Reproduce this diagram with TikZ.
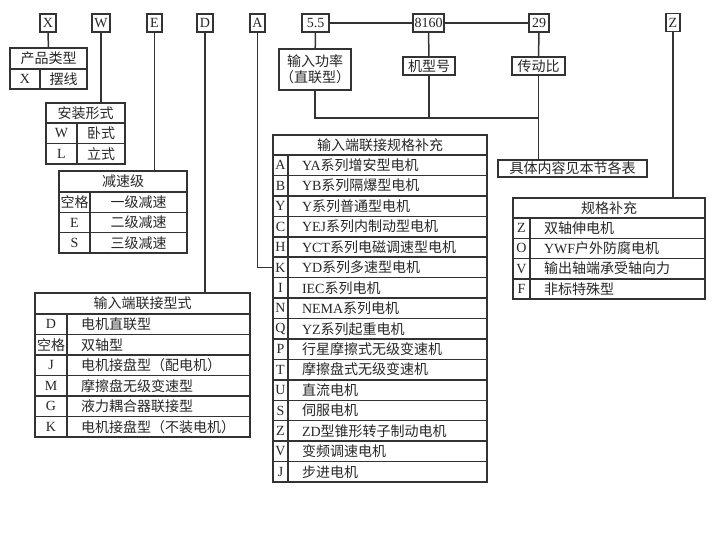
\documentclass[tikz,border=0pt]{standalone}
\usepackage{fontspec}
\setmainfont{Liberation Serif}
\newfontfamily\cjk{Noto Sans CJK SC}
\newcommand{\zh}[1]{{\cjk #1}}

\tikzset{
  wire/.style={line width=1.5pt, draw=black!80},
  codebox/.style={wire, fill=white, minimum height=18pt, inner sep=1pt},
  cell/.style={wire, anchor=north west, inner sep=0pt, outer sep=0pt},
  desc/.style={cell, align=left, inner xsep=14pt, text width=#1},
}

\begin{document}
\begin{tikzpicture}[x=1pt, y=-1pt, font=\fontsize{14}{16}\selectfont, text=black!85]
    \useasboundingbox (0,0) rectangle (720,540);

    % Code letters along the top
    \node[codebox, minimum width=16pt] (X) at (48,23) {X};
    \node[codebox, minimum width=18pt] (W) at (101,23) {W};
    \node[codebox, minimum width=15pt] (E) at (154.5,23) {E};
    \node[codebox, minimum width=16pt] (D) at (205,23) {D};
    \node[codebox, minimum width=15pt] (A) at (257.5,23) {A};
    \node[codebox, minimum width=27pt] (pw) at (315.5,23) {5.5};
    \node[codebox, minimum width=31pt] (fr) at (428.5,23) {8160};
    \node[codebox, minimum width=20pt] (ra) at (539,23) {29};
    \node[codebox, minimum width=14pt] (Z) at (673,22.5) {Z};

    % Power / frame / ratio labels
    \node[codebox, minimum width=70pt, minimum height=41pt, align=center] (pwlab) at (315,69.5) {\zh{输入功率}\\\zh{（直联型）}};
    \node[codebox, minimum width=52pt] (frlab) at (429,66) {\zh{机型号}};
    \node[codebox, minimum width=53pt] (ralab) at (538.5,66) {\zh{传动比}};
    \node[codebox, minimum width=149pt, minimum height=17pt] (see) at (572.5,168.5) {\zh{具体内容见本节各表}};
    \coordinate (join) at (539,118);

    \draw[wire] (pw) -- (fr) -- (ra);
    \draw[wire] (pw) -- (pwlab);
    \draw[wire] (fr) -- (frlab);
    \draw[wire] (ra) -- (ralab);
    \draw[wire] (pwlab.south) |- (join);
    \draw[wire] (frlab.south) -- (frlab.south |- join);
    \draw[wire] (ralab.south) -- (ralab.south |- see.north);

    % Product type
    \node[cell, minimum width=77pt, minimum height=21pt] (ptype) at (10,48) {\zh{产品类型}};
    \node[cell, minimum width=30pt, minimum height=20pt] (ptype-c1) at (10,69) {X};
    \node[cell, minimum width=47pt, minimum height=20pt] (ptype-d1) at (40,69) {\zh{摆线}};
    \draw[wire] (X) -- (ptype);

    % Mounting
    \node[cell, minimum width=79pt, minimum height=20pt] (mount) at (46,103) {\zh{安装形式}};
    \foreach \c/\d [count=\i] in {W/\zh{卧式}, L/\zh{立式}} {
        \node[cell, minimum width=31pt, minimum height=20.5pt] (mount-c\i) at (46,{123+(\i-1)*20.5}) {\c};
        \node[cell, minimum width=48pt, minimum height=20.5pt] (mount-d\i) at (77,{123+(\i-1)*20.5}) {\d};
    }
    \draw[wire] (W) -- (W |- mount.north);

    % Reduction stages
    \node[cell, minimum width=128pt, minimum height=21pt] (stage) at (59,171) {\zh{减速级}};
    \foreach \c/\d [count=\i] in {\zh{空格}/\zh{一级减速}, E/\zh{二级减速}, S/\zh{三级减速}} {
        \node[cell, minimum width=31pt, minimum height=20.33pt] (stage-c\i) at (59,{192+(\i-1)*20.33}) {\c};
        \node[cell, minimum width=97pt, minimum height=20.33pt] (stage-d\i) at (90,{192+(\i-1)*20.33}) {\d};
    }
    \draw[wire] (E) -- (E |- stage.north);

    % Input connection type
    \node[cell, minimum width=215pt, minimum height=21pt] (inconn) at (35,293) {\zh{输入端联接型式}};
    \foreach \c/\d [count=\i] in {D/\zh{电机直联型}, \zh{空格}/\zh{双轴型}, J/\zh{电机接盘型（配电机）},
        M/\zh{摩擦盘无级变速型}, G/\zh{液力耦合器联接型}, K/\zh{电机接盘型（不装电机）}} {
        \node[cell, minimum width=32pt, minimum height=20.5pt] (inconn-c\i) at (35,{314+(\i-1)*20.5}) {\c};
        \node[desc=155pt, minimum height=20.5pt] (inconn-d\i) at (67,{314+(\i-1)*20.5}) {\d};
    }
    \draw[wire] (D) -- (D |- inconn.north);

    % Input connection supplement
    \node[cell, minimum width=214pt, minimum height=20pt] (spec) at (273,135) {\zh{输入端联接规格补充}};
    \foreach \c/\d [count=\i] in {A/YA\zh{系列增安型电机}, B/YB\zh{系列隔爆型电机}, Y/Y\zh{系列普通型电机},
        C/YEJ\zh{系列内制动型电机}, H/YCT\zh{系列电磁调速型电机}, K/YD\zh{系列多速型电机},
        I/IEC\zh{系列电机}, N/NEMA\zh{系列电机}, Q/YZ\zh{系列起重电机},
        P/\zh{行星摩擦式无级变速机}, T/\zh{摩擦盘式无级变速机}, U/\zh{直流电机},
        S/\zh{伺服电机}, Z/ZD\zh{型锥形转子制动电机}, V/\zh{变频调速电机}, J/\zh{步进电机}} {
        \node[cell, minimum width=15pt, minimum height=20.44pt] (spec-c\i) at (273,{155+(\i-1)*20.44}) {\c};
        \node[desc=171pt, minimum height=20.44pt] (spec-d\i) at (288,{155+(\i-1)*20.44}) {\d};
    }
    \draw[wire] (A.south) |- (spec-c6.west);

    % Specification supplement
    \node[cell, minimum width=192pt, minimum height=20pt] (extra) at (513,198) {\zh{规格补充}};
    \foreach \c/\d [count=\i] in {Z/\zh{双轴伸电机}, O/YWF\zh{户外防腐电机},
        V/\zh{输出轴端承受轴向力}, F/\zh{非标特殊型}} {
        \node[cell, minimum width=17pt, minimum height=20.25pt] (extra-c\i) at (513,{218+(\i-1)*20.25}) {\c};
        \node[desc=147pt, minimum height=20.25pt] (extra-d\i) at (530,{218+(\i-1)*20.25}) {\d};
    }
    \draw[wire] (Z) -- (Z |- extra.north);

\end{tikzpicture}
\end{document}
